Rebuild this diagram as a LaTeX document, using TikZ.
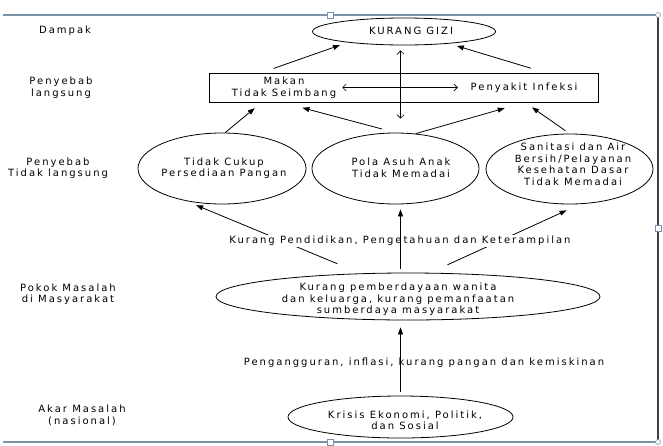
\documentclass[tikz,border=0pt]{standalone}
\usepackage{fontspec}
\setmainfont{DejaVu Sans}[LetterSpace=20]
\usetikzlibrary{shapes.geometric,arrows.meta}

\begin{document}
\begin{tikzpicture}[x=1pt,y=-1pt,>={Straight Barb[length=3.5pt,width=7pt]}]
%% Colors
\definecolor{frameCol}{RGB}{122,146,170}
%% Styles
\tikzset{
txt/.style={font=\fontsize{10}{11.5}\selectfont, align=center, inner sep=1pt},
ellip/.style={draw, ellipse, inner sep=0pt, line width=0.8pt},
arr/.style={draw, line width=0.8pt, -{Triangle[length=7pt,width=5pt]}},
dbl/.style={draw, line width=0.6pt, <->}
}
\useasboundingbox (0,0) rectangle (663,445);

%% Page frame
\path[draw, frameCol, line width=1.5pt] (3,15) -- (658,15);
\path[draw, frameCol, line width=1.5pt] (3,442) -- (658,442);
\path[draw, black!75, line width=1.5pt] (658,15) -- (658,442);
\foreach \y in {15,442}{
\path[draw, frameCol, fill=white, line width=0.6pt] (327,\y-3) rectangle ++(6,6);
\path[draw, frameCol, fill=white, line width=0.6pt] (658,\y) circle (2.5);
}
\path[draw, frameCol, fill=white, line width=0.6pt] (655,225) rectangle ++(6,6);

%% Level labels
\node[txt] (lDampak) at (65,31) {Dampak};
\node[txt] (lLangsung) at (61,87.5) {Penyebab\\langsung};
\node[txt] (lTdkLangsung) at (58,168) {Penyebab\\Tidak langsung};
\node[txt] (lPokok) at (68,294) {Pokok Masalah\\di Masyarakat};
\node[txt] (lAkar) at (82,415.5) {Akar Masalah\\(nasional)};

%% Shapes
\node[ellip, minimum width=183pt, minimum height=27pt] (gizi) at (404,31.5) {};
\node[draw, line width=0.8pt, inner sep=0pt, minimum width=389pt, minimum height=29pt] (langsung) at (403.5,87.5) {};
\node[ellip, minimum width=168pt, minimum height=71pt] (pangan) at (222,168.5) {};
\node[ellip, minimum width=167pt, minimum height=71pt] (polaasuh) at (395.5,168.5) {};
\node[ellip, minimum width=167pt, minimum height=70pt] (sanitasi) at (569.5,169) {};
\node[ellip, minimum width=384pt, minimum height=47pt] (pokok) at (408,296.5) {};
\node[ellip, minimum width=225pt, minimum height=42pt] (krisis) at (400.5,417) {};

%% Texts
\node[txt] (tGizi) at (411,31) {KURANG GIZI};
\node[txt] (tMakan) at (284,87.5) {Makan\\Tidak Seimbang};
\node[txt] (tInfeksi) at (524,87.5) {Penyakit Infeksi};
\node[txt] (tPangan) at (224,168) {Tidak Cukup\\Persediaan Pangan};
\node[txt] (tPola) at (401,168) {Pola Asuh Anak\\Tidak Memadai};
\node[txt] (tSanitasi) at (573,164.5) {Sanitasi dan Air\\Bersih/Pelayanan\\Kesehatan Dasar\\Tidak Memadai};
\node[txt] (tPokok) at (398,299.5) {Kurang pemberdayaan wanita\\dan keluarga, kurang pemanfaatan\\sumberdaya masyarakat};
\node[txt] (tKerja) at (424,363) {Pengangguran, inflasi, kurang pangan dan kemiskinan};
\node[txt] (tKrisis) at (405,420.5) {Krisis Ekonomi, Politik,\\dan Sosial};

%% Penyebab langsung -> kurang gizi
\path[arr, shorten <=12.6pt, shorten >=8pt] (langsung.174.2) -- (gizi.191.6);
\path[arr, shorten <=15pt, shorten >=8pt] (langsung.6.4) -- (gizi.345.5);
\path[dbl, shorten <=5pt, shorten >=14pt] (gizi.south -| krisis.center) -- (polaasuh.north -| krisis.center);
\path[dbl, shorten <=5pt, shorten >=11.7pt] (tMakan.east) -- (tInfeksi.west);

%% Penyebab tidak langsung -> penyebab langsung
\path[arr, shorten >=9pt] (pangan.85) -- (langsung.186.3);
\path[arr, shorten <=14pt, shorten >=21pt] (polaasuh.north) -- (langsung.187.5);
\path[arr, shorten >=21pt] (polaasuh.60.5) -- (langsung.353.1);
\path[arr, shorten <=5pt, shorten >=8.6pt] (sanitasi.north) -- (langsung.353.4);

%% Pokok masalah -> penyebab tidak langsung
\path[arr, shorten <=25pt, shorten >=11pt] (pokok.154.5) -- (pangan.222.7);
\path[arr, shorten <=19pt, shorten >=15pt] (pokok.47.6) -- (sanitasi.287.8);
\node[txt, fill=white] (tPendidikan) at (400,241) {Kurang Pendidikan, Pengetahuan dan Keterampilan};
\path[arr, shorten <=4pt, shorten >=5pt] (pokok.north -| krisis.center) -- (polaasuh.south -| krisis.center);

%% Akar masalah -> pokok masalah
\path[arr, shorten <=4pt, shorten >=7pt] (krisis.north) -- (krisis.north |- pokok.south);

\end{tikzpicture}
\end{document}
